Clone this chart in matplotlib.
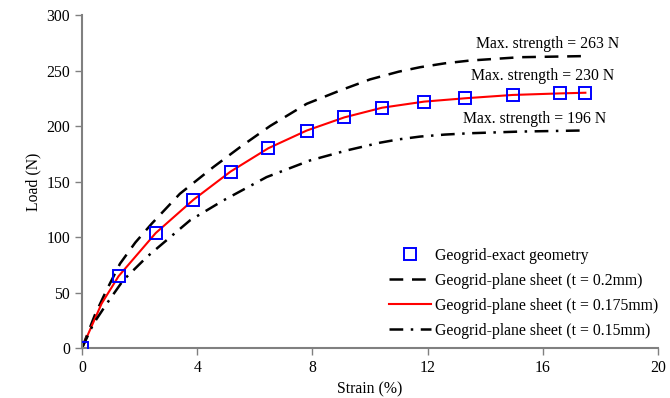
import matplotlib
matplotlib.use("Agg")
import matplotlib.pyplot as plt

plt.rcParams["font.family"] = ["Liberation Serif", "DejaVu Serif"]
plt.rcParams["font.size"] = 11.3

# Geogrid-exact geometry (markers)
exact_strain = [0, 1.27, 2.56, 3.87, 5.16, 6.47, 7.80, 9.11, 10.42, 11.88, 13.30, 14.95, 16.60, 17.48]
exact_load = [0, 64.7, 103.6, 133.6, 159.0, 180.0, 195.9, 207.8, 216.5, 222.0, 225.0, 228.0, 229.4, 229.6]

# plane sheet t = 0.2mm
t20_strain = [0, 0.45, 0.85, 1.32, 1.85, 2.42, 3.40, 4.56, 5.49, 6.53, 7.80, 8.96, 10.0, 11.0, 11.74, 12.6, 13.47, 15.2, 17.4]
t20_load = [0, 30, 52, 76, 95, 112, 139, 163, 181, 200, 220, 232, 242, 249, 253, 256.5, 259, 262, 263]

# plane sheet t = 0.175mm
t175_strain = [0, 0.68, 1.27, 2.56, 3.87, 5.16, 6.47, 7.80, 9.11, 10.42, 11.88, 13.30, 14.95, 16.60, 17.48]
t175_load = [0, 40, 64.7, 103.6, 133.6, 159.0, 180.0, 195.9, 207.8, 216.5, 222.0, 225.0, 228.0, 229.4, 230]

# plane sheet t = 0.15mm
t15_strain = [0, 0.40, 0.86, 1.43, 2.25, 3.75, 4.91, 6.41, 7.92, 9.19, 10.35, 11.0, 11.74, 12.6, 13.47, 15.2, 17.4]
t15_load = [0, 22, 40, 61, 82, 115, 133, 154, 169, 178, 185, 188, 190.5, 192.3, 193.5, 195, 196]

notes = ["Max. strength = 263 N", "Max. strength = 230 N", "Max. strength = 196 N"]
note_x = [16.15, 16.0, 15.7]
note_y = [274, 245, 206]

fig = plt.figure(figsize=(6.7, 3.98), dpi=100)
ax = fig.add_axes([0.1224, 0.1256, 0.8596, 0.8366])

ax.plot(exact_strain, exact_load, linestyle="none", marker="s", markersize=8,
        markerfacecolor="none", markeredgecolor="blue", markeredgewidth=1.4,
        label="Geogrid-exact geometry", zorder=4)
ax.plot(t20_strain, t20_load, color="black", linewidth=1.8, dashes=(5.5, 3.5),
        label="Geogrid-plane sheet (t = 0.2mm)")
ax.plot(t175_strain, t175_load, color="red", linewidth=1.5,
        label="Geogrid-plane sheet (t = 0.175mm)")
ax.plot(t15_strain, t15_load, color="black", linewidth=1.8, dashes=(5.5, 3, 1, 3),
        label="Geogrid-plane sheet (t = 0.15mm)")

for txt, x, y in zip(notes, note_x, note_y):
    ax.text(x, y, txt, ha="center", va="center")

ax.set_xlim(0, 20)
ax.set_ylim(0, 300)
ax.set_xticks(range(0, 21, 4))
ax.set_yticks(range(0, 301, 50))
ax.set_xlabel("Strain (%)")
ax.set_ylabel("Load (N)")

for side in ["top", "right"]:
    ax.spines[side].set_visible(False)
for side in ["left", "bottom"]:
    ax.spines[side].set_color("#808080")
    ax.spines[side].set_linewidth(1.5)
ax.tick_params(direction="out", length=5, width=1, color="#808080")

ax.legend(loc="lower right", bbox_to_anchor=(1.025, -0.015), frameon=False,
          handlelength=2.7, handletextpad=0.25, labelspacing=0.58)

fig.savefig("out.png", dpi=100)
